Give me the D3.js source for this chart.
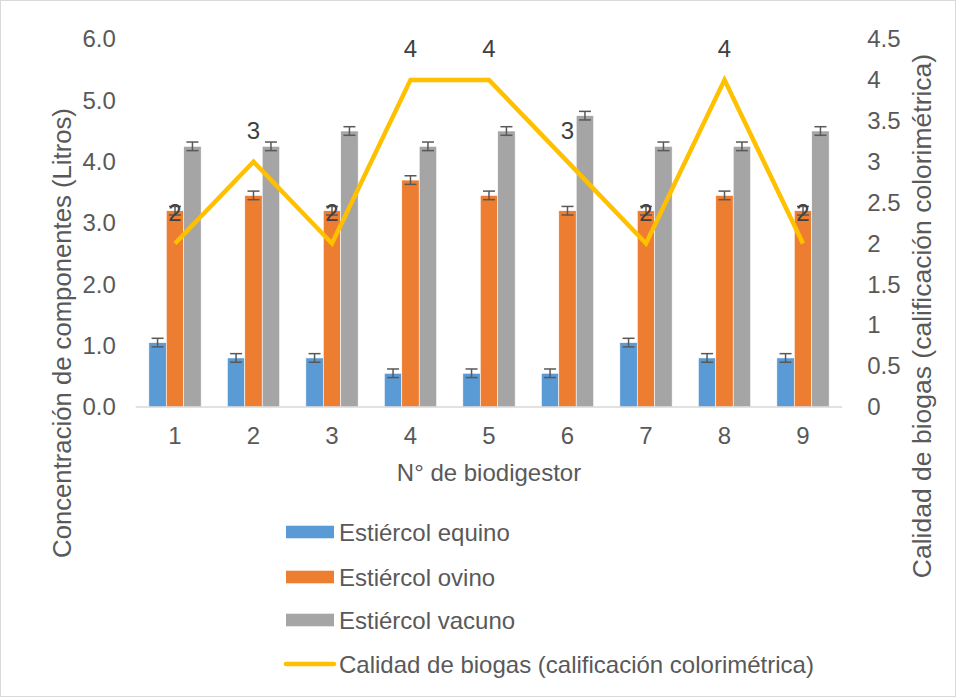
<!DOCTYPE html>
<html><head><meta charset="utf-8">
<script src="https://cdn.jsdelivr.net/npm/d3@7/dist/d3.min.js"></script>
<style>body{margin:0;background:#fff}svg{display:block;font-family:"Liberation Sans",Arial,sans-serif}</style>
</head><body><svg id="c" width="956" height="697"></svg>
<script>
const categories = ["1","2","3","4","5","6","7","8","9"];
const equino = [1.05,0.8,0.8,0.55,0.55,0.55,1.05,0.8,0.8];
const ovino  = [3.2,3.45,3.2,3.7,3.45,3.2,3.2,3.45,3.2];
const vacuno = [4.25,4.25,4.5,4.25,4.5,4.75,4.25,4.25,4.5];
const errorAmount = 0.07;
const calidad = [2,3,2,4,4,3,2,4,2];
const leftTicks = [0,1,2,3,4,5,6];
const rightTicks = [0,0.5,1,1.5,2,2.5,3,3.5,4,4.5];
const seriesNames = ["Estiércol equino","Estiércol ovino","Estiércol vacuno"];
const lineName = "Calidad de biogas (calificación colorimétrica)";
const colors = ["#5B9BD5","#ED7D31","#A5A5A5"];
const lineColor = "#FFC000";
const FS = 24;
const FF = "Liberation Sans, Arial, sans-serif";

const svg = d3.select("#c");
svg.append("rect").attr("x",0.5).attr("y",0.5).attr("width",955).attr("height",696)
  .attr("fill","#fff").attr("stroke","#d9d9d9");

const L=135.75, R=842.25, T=39, B=407;
const x = d3.scaleBand().domain(categories).range([L,R]).paddingInner(0).paddingOuter(0);
const yL = d3.scaleLinear().domain([0,6]).range([B,T]);
const yR = d3.scaleLinear().domain([0,4.5]).range([B,T]);
const bw = x.bandwidth()/(3+1.5);
const groupOff = (x.bandwidth()-3*bw)/2;

const series=[equino,ovino,vacuno];
series.forEach((vals,si)=>{
  const g=svg.append("g");
  g.selectAll("rect").data(vals).join("rect")
    .attr("x",(d,i)=>x(categories[i])+groupOff+si*bw)
    .attr("y",d=>yL(d)).attr("width",bw).attr("height",d=>B-yL(d))
    .attr("fill",colors[si]).attr("stroke","#fff").attr("stroke-width",0.6);
});
// axis line
svg.append("line").attr("x1",L).attr("x2",R).attr("y1",B).attr("y2",B).attr("stroke","#d9d9d9").attr("stroke-width",1.5);
// error bars
series.forEach((vals,si)=>{
  const g=svg.append("g").attr("stroke","#595959").attr("stroke-width",1.5);
  vals.forEach((d,i)=>{
    const cx=x(categories[i])+groupOff+si*bw+bw/2;
    g.append("line").attr("x1",cx).attr("x2",cx).attr("y1",yL(d+errorAmount)).attr("y2",yL(d-errorAmount));
    g.append("line").attr("x1",cx-6).attr("x2",cx+6).attr("y1",yL(d+errorAmount)).attr("y2",yL(d+errorAmount));
    g.append("line").attr("x1",cx-6).attr("x2",cx+6).attr("y1",yL(d-errorAmount)).attr("y2",yL(d-errorAmount));
  });
});
// line
const line=d3.line().x((d,i)=>x(categories[i])+x.bandwidth()/2).y(d=>yR(d));
svg.append("path").datum(calidad).attr("d",line).attr("fill","none").attr("stroke",lineColor)
  .attr("stroke-width",4.5).attr("stroke-linejoin","miter");
svg.append("g").selectAll("text").data(calidad).join("text")
  .attr("x",(d,i)=>x(categories[i])+x.bandwidth()/2).attr("y",d=>yR(d)-22.5)
  .attr("text-anchor","middle").attr("font-size",FS).attr("fill","#404040").text(d=>d);

// axes ticks
const ax=d3.axisLeft(yL).tickValues(leftTicks).tickFormat(d3.format(".1f")).tickSize(0).tickPadding(20);
const gl=svg.append("g").attr("transform",`translate(${L},0)`).call(ax);
gl.select(".domain").remove();
gl.selectAll("text").attr("font-size",FS).attr("fill","#595959").attr("font-family",FF);
const ar=d3.axisRight(yR).tickValues(rightTicks).tickFormat(d=>String(d)).tickSize(0).tickPadding(25);
const gr=svg.append("g").attr("transform",`translate(${R},0)`).call(ar);
gr.select(".domain").remove();
gr.selectAll("text").attr("font-size",FS).attr("fill","#595959").attr("font-family",FF);
const axb=d3.axisBottom(x).tickSize(0).tickPadding(20);
const gb=svg.append("g").attr("transform",`translate(0,${B})`).call(axb);
gb.select(".domain").remove();
gb.selectAll("text").attr("font-size",FS).attr("fill","#595959").attr("font-family",FF);

// titles
svg.append("text").attr("x",489).attr("y",481).attr("text-anchor","middle").attr("font-size",FS).attr("fill","#595959").text("N° de biodigestor");
svg.append("text").attr("transform","translate(71,333) rotate(-90)").attr("text-anchor","middle").attr("font-size",25.7).attr("fill","#595959").text("Concentración de componentes (Litros)");
svg.append("text").attr("transform","translate(931,316) rotate(-90)").attr("text-anchor","middle").attr("font-size",26.5).attr("fill","#595959").text(lineName);

// legend
const legY=[532,577,620,664];
seriesNames.forEach((n,i)=>{
  svg.append("rect").attr("x",286).attr("y",legY[i]-6.3).attr("width",48).attr("height",12.6).attr("fill",colors[i]);
  svg.append("text").attr("x",339).attr("y",legY[i]+8.5).attr("font-size",FS).attr("fill","#595959").text(n);
});
svg.append("line").attr("x1",286).attr("x2",334).attr("y1",legY[3]).attr("y2",legY[3]).attr("stroke",lineColor).attr("stroke-width",4.5).attr("stroke-linecap","round");
svg.append("text").attr("x",339).attr("y",legY[3]+8.5).attr("font-size",FS).attr("fill","#595959").text(lineName);
</script></body></html>
